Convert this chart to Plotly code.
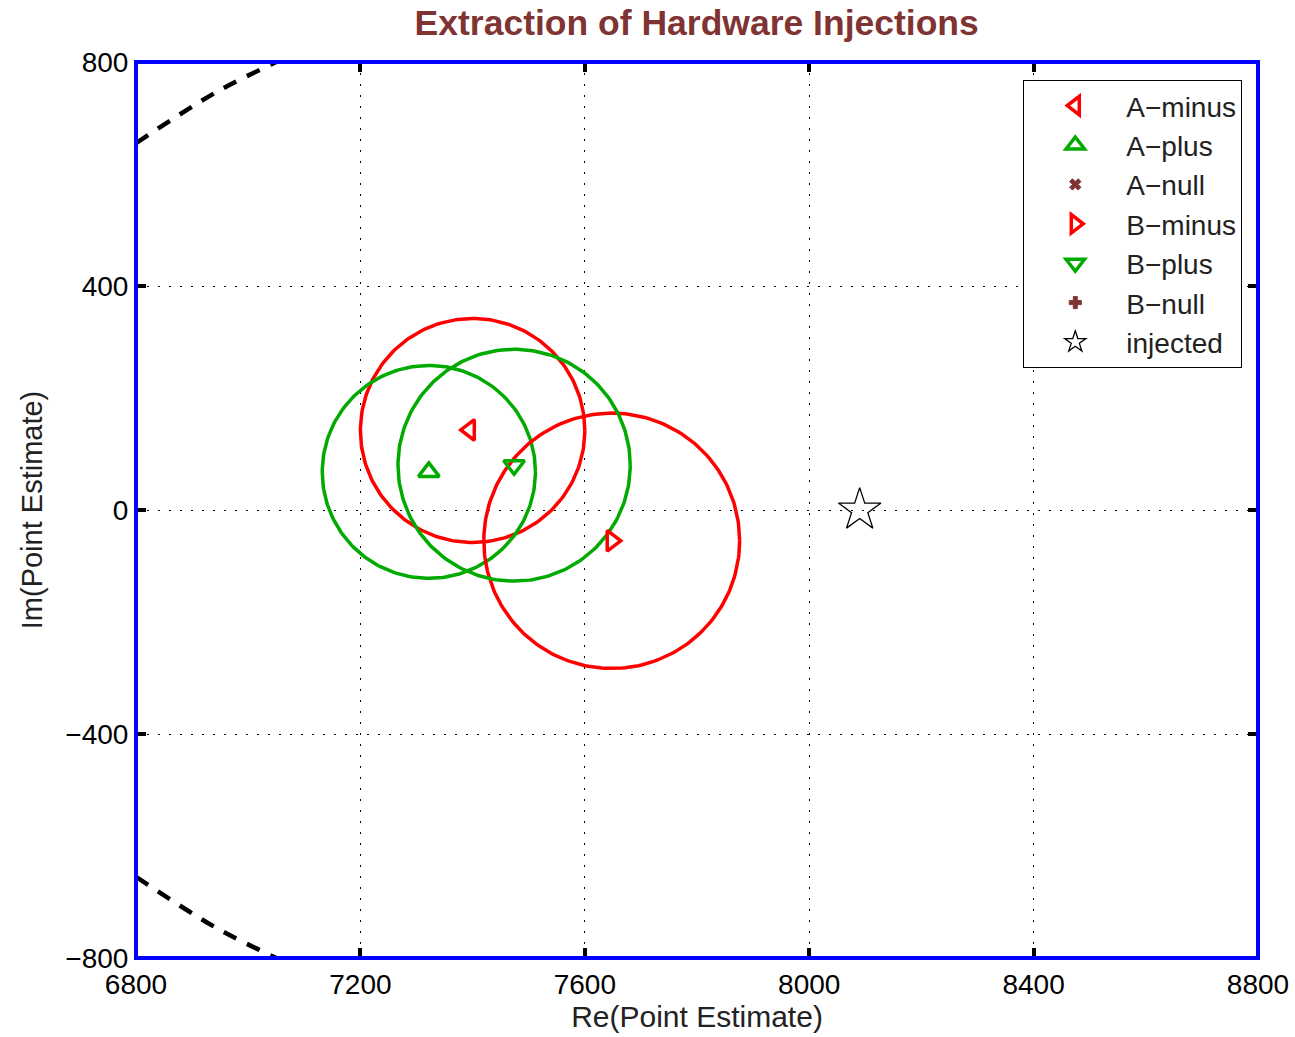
import numpy as np
import plotly.graph_objects as go

# ---- data ----
names = ["A\u2212minus", "A\u2212plus", "A\u2212null", "B\u2212minus", "B\u2212plus", "B\u2212null"]
est_re = [7395, 7322, None, 7648, 7474, None]
est_im = [143, 68, None, -55, 80, None]
radius = [200, 190, None, 228, 207, None]
circle_center_re = [7400, 7322, None, 7648, 7474, None]
circle_center_im = [142, 68, None, -55, 80, None]
injected_re = [8090]
injected_im = [0]
bound_top_re = [6800, 6941, 7050]
bound_top_im = [655, 745, 800]
bound_bot_re = [6800, 6941, 7050]
bound_bot_im = [-655, -745, -800]
x_ticks = [6800, 7200, 7600, 8000, 8400, 8800]
y_ticks = [-800, -400, 0, 400, 800]
y_tick_text = ["\u2212800", "\u2212400", "0", "400", "800"]

RED = "#FF0000"
GREEN = "#00AA00"
BROWN = "#7F3333"
colors = [RED, GREEN, BROWN, RED, GREEN, BROWN]
symbols = ["triangle-left-open", "triangle-up-open", "x", "triangle-right-open",
           "triangle-down-open", "cross"]
msize = [18, 18, 10, 18, 18, 10]

FONT = "Liberation Sans, Arial, Helvetica"

fig = go.Figure()

# circles (no legend)
t = np.linspace(0, 2 * np.pi, 241)
for i in range(len(names)):
    if radius[i] is None:
        continue
    fig.add_trace(go.Scatter(
        x=circle_center_re[i] + radius[i] * np.cos(t),
        y=circle_center_im[i] + radius[i] * np.sin(t),
        mode="lines", line=dict(color=colors[i], width=3.5),
        showlegend=False, hoverinfo="skip"))

# bound curves
for bx, by in [(bound_top_re, bound_top_im), (bound_bot_re, bound_bot_im)]:
    fig.add_trace(go.Scatter(x=bx, y=by, mode="lines",
                             line=dict(color="black", width=4.5, dash="14px,12px", shape="spline"),
                             showlegend=False, hoverinfo="skip"))

# point estimates
for i, n in enumerate(names):
    xs = [est_re[i]] if est_re[i] is not None else [None]
    ys = [est_im[i]] if est_im[i] is not None else [None]
    is_null = est_re[i] is None
    fig.add_trace(go.Scatter(
        x=xs, y=ys, mode="markers", name=n,
        marker=dict(symbol=symbols[i], size=msize[i], color=colors[i],
                    line=dict(color=colors[i], width=3.5 if not is_null else 1))))

fig.add_trace(go.Scatter(
    x=injected_re, y=injected_im, mode="markers", name="injected",
    marker=dict(symbol="star-open", size=32, color="black", line=dict(color="black", width=1.3))))

axis_common = dict(
    showline=True, linecolor="black", linewidth=2, mirror="allticks",
    ticks="inside", ticklen=10, tickwidth=4, tickcolor="black",
    showgrid=True, gridcolor="black", gridwidth=1.2, griddash="2px,9px",
    zeroline=False, tickfont=dict(family=FONT, size=28, color="black"),
    automargin=False,
)

fig.update_xaxes(range=[6800, 8800], tickvals=x_ticks, ticktext=[str(v) for v in x_ticks],
                 title=dict(text="Re(Point Estimate)", font=dict(family=FONT, size=30, color="#222"), standoff=2),
                 **axis_common)
fig.update_yaxes(range=[-800, 800], tickvals=y_ticks, ticktext=y_tick_text,
                 title=dict(text="Im(Point Estimate)", font=dict(family=FONT, size=29, color="#222"), standoff=14),
                 **axis_common)

fig.add_shape(type="rect", xref="paper", yref="paper", x0=0, y0=0, x1=1, y1=1,
              line=dict(color="blue", width=4), layer="above")

fig.update_layout(
    width=1295, height=1037,
    margin=dict(l=136, r=37, t=62, b=79),
    paper_bgcolor="white", plot_bgcolor="white",
    title=dict(text="<b>Extraction of Hardware Injections</b>", x=0.538, xanchor="center",
               y=0.978, yanchor="middle",
               font=dict(family=FONT, size=35.5, color=BROWN)),
    legend=dict(x=0.986, xanchor="right", y=0.98, yanchor="top",
                bgcolor="white", bordercolor="black", borderwidth=1,
                font=dict(family=FONT, size=28, color="#222"),
                itemwidth=92, tracegroupgap=0),
    showlegend=True,
)

fig.write_html("out.html")
